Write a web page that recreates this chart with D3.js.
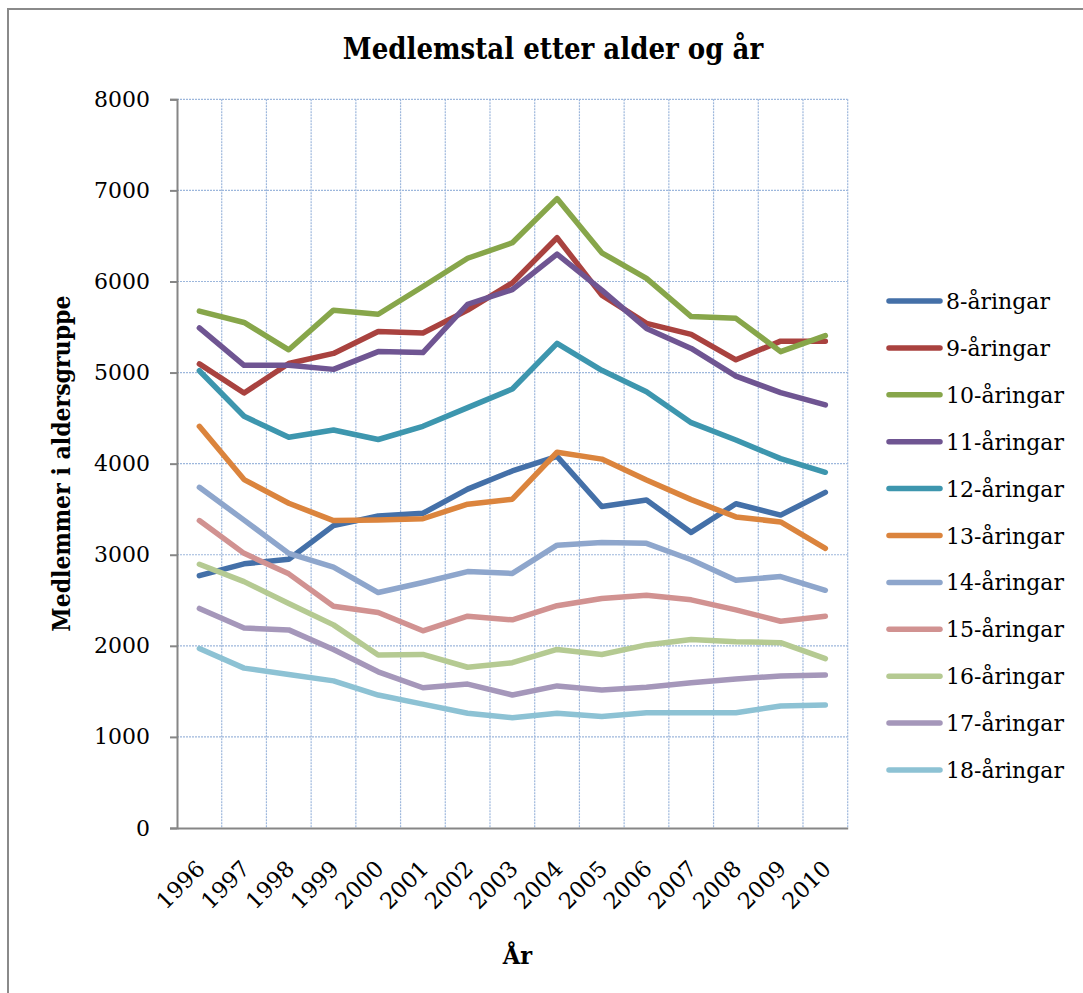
<!DOCTYPE html>
<html>
<head>
<meta charset="utf-8">
<script src="https://cdn.jsdelivr.net/npm/d3@7"></script>
<style>
  html, body { margin: 0; padding: 0; background: #fff; }
  svg { display: block; }
</style>
</head>
<body>
<svg id="chart" width="1083" height="993"></svg>
<script>
const years = ["1996","1997","1998","1999","2000","2001","2002","2003","2004","2005","2006","2007","2008","2009","2010"];
const seriesNames = ["8-åringar","9-åringar","10-åringar","11-åringar","12-åringar","13-åringar","14-åringar","15-åringar","16-åringar","17-åringar","18-åringar"];
const seriesColors = ["#4470a8","#a9423f","#87a64a","#6f5592","#3d96ae","#db843d","#8ea6cc","#d19291","#b5ca92","#a597ba","#8dc2d4"];
const yTicks = [0,1000,2000,3000,4000,5000,6000,7000,8000];

const v8  = [2770,2900,2950,3320,3425,3455,3720,3920,4080,3530,3600,3245,3560,3435,3685];
const v9  = [5095,4775,5100,5210,5450,5435,5685,5985,6480,5850,5540,5420,5140,5345,5345];
const v10 = [5675,5550,5250,5685,5640,5945,6255,6425,6910,6315,6035,5615,5595,5230,5405];
const v11 = [5490,5080,5080,5035,5230,5220,5750,5910,6300,5905,5485,5265,4960,4780,4645];
const v12 = [5020,4520,4290,4370,4265,4410,4615,4820,5320,5025,4790,4450,4260,4055,3905];
const v13 = [4410,3825,3565,3375,3380,3395,3555,3610,4125,4050,3820,3605,3415,3360,3070];
const v14 = [3740,3380,3015,2865,2585,2695,2815,2795,3105,3135,3125,2945,2720,2760,2610];
const v15 = [3375,3015,2790,2435,2365,2165,2325,2285,2440,2520,2555,2505,2395,2270,2325];
const v16 = [2895,2705,2465,2230,1900,1905,1765,1815,1960,1905,2010,2070,2045,2035,1860];
const v17 = [2410,2195,2175,1960,1715,1540,1580,1460,1560,1515,1545,1595,1635,1670,1680];
const v18 = [1970,1755,1685,1615,1460,1360,1260,1210,1260,1225,1265,1265,1265,1340,1350];
const allValues = [v8,v9,v10,v11,v12,v13,v14,v15,v16,v17,v18];

const svg = d3.select("#chart");
const serif = '"DejaVu Serif", "Liberation Serif", serif';

// outer chart border
svg.append("rect")
  .attr("x", 8).attr("y", 9)
  .attr("width", 1100).attr("height", 1000)
  .attr("fill", "#fff")
  .attr("stroke", "#8a8a8a").attr("stroke-width", 2);

const pLeft = 177, pRight = 847.7, pTop = 99.3, pBottom = 828;

const x = d3.scaleBand().domain(years).range([pLeft, pRight]).padding(0);
const y = d3.scaleLinear().domain([0, 8000]).range([pBottom, pTop]);
const cx = d => x(d) + x.bandwidth() / 2;

// gridlines
const grid = svg.append("g").attr("stroke", "#9db7dc").attr("stroke-width", 1.2).attr("stroke-dasharray", "2,1");
grid.selectAll("line.h").data(yTicks.filter(t => t > 0)).join("line").attr("class", "h")
  .attr("x1", pLeft).attr("x2", pRight)
  .attr("y1", d => y(d)).attr("y2", d => y(d));
grid.selectAll("line.v").data(years.slice(1).map(d => x(d)).concat([pRight])).join("line").attr("class", "v")
  .attr("x1", d => d).attr("x2", d => d)
  .attr("y1", pTop).attr("y2", pBottom);

// y axis
const yAxis = svg.append("g")
  .attr("transform", `translate(${pLeft},0)`)
  .call(d3.axisLeft(y).tickValues(yTicks).tickSize(7).tickPadding(20).tickFormat(d3.format("d")));
yAxis.select(".domain").attr("stroke", "#868686").attr("stroke-width", 2);
yAxis.selectAll(".tick line").attr("stroke", "#868686").attr("stroke-width", 2);
yAxis.selectAll("text").attr("font-family", serif).attr("font-size", 22).attr("fill", "#000");

// x axis
const xAxis = svg.append("g")
  .attr("transform", `translate(0,${pBottom})`)
  .call(d3.axisBottom(x).tickSize(0).tickPadding(0));
xAxis.select(".domain").attr("stroke", "#868686").attr("stroke-width", 2);
xAxis.selectAll(".tick text")
  .attr("font-family", serif).attr("font-size", 22.5).attr("fill", "#000")
  .attr("text-anchor", "end")
  .attr("dy", null).attr("y", null)
  .attr("transform", "translate(7,42) rotate(-45)");

// lines
const line = d3.line().x((d, i) => cx(years[i])).y(d => y(d));
svg.append("g").selectAll("path").data(allValues).join("path")
  .attr("d", d => line(d))
  .attr("fill", "none")
  .attr("stroke", (d, i) => seriesColors[i])
  .attr("stroke-width", 5.5)
  .attr("stroke-linejoin", "round")
  .attr("stroke-linecap", "round");

// legend
const legend = svg.append("g");
const legY = d3.scalePoint().domain(seriesNames).range([301, 770]);
const items = legend.selectAll("g").data(seriesNames).join("g")
  .attr("transform", d => `translate(0,${legY(d)})`);
items.append("line")
  .attr("x1", 889).attr("x2", 940).attr("y1", 0).attr("y2", 0)
  .attr("stroke", (d, i) => seriesColors[i]).attr("stroke-width", 5.5).attr("stroke-linecap", "round");
items.append("text")
  .attr("x", 946).attr("y", 8)
  .attr("font-family", serif).attr("font-size", 22).attr("fill", "#000")
  .text(d => d);

// title
svg.append("text")
  .attr("x", 553).attr("y", 59)
  .attr("text-anchor", "middle")
  .attr("font-family", serif).attr("font-weight", "bold").attr("font-size", 29)
  .attr("font-stretch", "condensed")
  .text("Medlemstal etter alder og år");

// axis titles
svg.append("text")
  .attr("transform", `translate(70,${(pTop + pBottom) / 2}) rotate(-90)`)
  .attr("text-anchor", "middle")
  .attr("font-family", serif).attr("font-weight", "bold").attr("font-size", 24.5)
  .attr("font-stretch", "condensed")
  .text("Medlemmer i aldersgruppe");

svg.append("text")
  .attr("x", (pLeft + pRight) / 2 + 5).attr("y", 964)
  .attr("text-anchor", "middle")
  .attr("font-family", serif).attr("font-weight", "bold").attr("font-size", 25)
  .attr("font-stretch", "condensed")
  .text("År");
</script>
</body>
</html>
